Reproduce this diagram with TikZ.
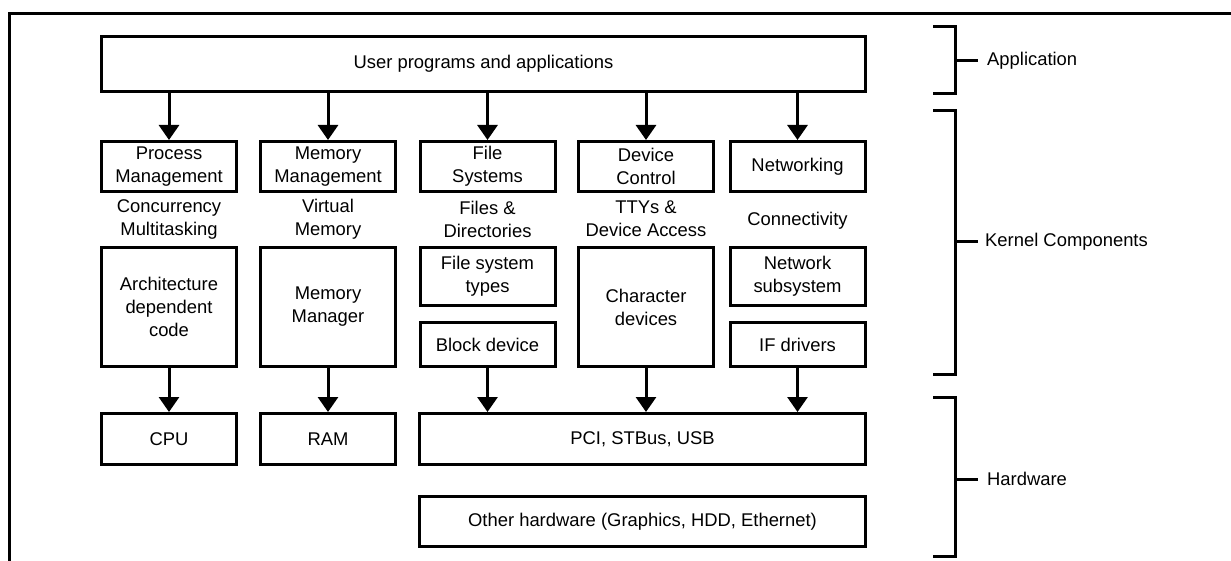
\documentclass[tikz,border=0pt]{standalone}
\usepackage{fontspec}
\setmainfont{Liberation Sans}
\usetikzlibrary{arrows.meta}

\begin{document}
\begin{tikzpicture}[x=1pt,y=-1pt,
  font=\fontsize{18.4}{23}\selectfont,
  box/.style={draw,line width=3pt,inner sep=0pt,align=center,minimum width=135pt},
  arr/.style={line width=3pt,-{Triangle[width=20pt,length=15pt]}},
  brk/.style={line width=3pt},
  lbl/.style={align=center,inner sep=0pt}]
  \useasboundingbox (0,0) rectangle (1231,561);
  \draw[brk] (1231,14) -- (9,14) -- (9,561);

  \node[box,minimum width=764pt,minimum height=55pt] (usr) at (483.5,64) {User programs and applications};

  \node[box,minimum height=50pt] (proc) at (169,166.5) {Process\\Management};
  \node[box,minimum height=50pt] (mem) at (328,166.5) {Memory\\Management};
  \node[box,minimum height=50pt] (fs) at (487.5,166.5) {File\\Systems};
  \node[box,minimum height=50pt] (dev) at (646,166.5) {Device\\Control};
  \node[box,minimum height=50pt] (net) at (797.5,166.5) {Networking};

  \node[lbl] (conc) at (169,219) {Concurrency\\Multitasking};
  \node[lbl] (virt) at (328,219) {Virtual\\Memory};
  \node[lbl] (files) at (487.5,219) {Files \&\\Directories};
  \node[lbl] (tty) at (646,219) {TTYs \&\\Device Access};
  \node[lbl] (conn) at (797.5,221) {Connectivity};

  \node[box,minimum height=119pt] (arch) at (169,307) {Architecture\\dependent\\code};
  \node[box,minimum height=119pt] (mmgr) at (328,307) {Memory\\Manager};
  \node[box,minimum height=58pt] (fst) at (487.5,276.5) {File system\\types};
  \node[box,minimum height=44pt] (blk) at (487.5,344.5) {Block device};
  \node[box,minimum height=119pt] (chr) at (646,307) {Character\\devices};
  \node[box,minimum height=58pt] (nsub) at (797.5,276.5) {Network\\subsystem};
  \node[box,minimum height=44pt] (ifd) at (797.5,344.5) {IF drivers};

  \node[box,minimum height=51pt] (cpu) at (169,439) {CPU};
  \node[box,minimum height=51pt] (ram) at (328,439) {RAM};
  \node[box,minimum width=446pt,minimum height=51pt] (pci) at (642.5,439) {PCI, STBus, USB};
  \node[box,minimum width=446pt,minimum height=50pt] (oth) at (642.5,521.5) {Other hardware (Graphics, HDD, Ethernet)};

  \draw[arr] (proc.north |- usr.south) -- (proc.north);
  \draw[arr] (mem.north |- usr.south) -- (mem.north);
  \draw[arr] (fs.north |- usr.south) -- (fs.north);
  \draw[arr] (dev.north |- usr.south) -- (dev.north);
  \draw[arr] (net.north |- usr.south) -- (net.north);

  \draw[arr] (arch.south) -- (cpu.north);
  \draw[arr] (mmgr.south) -- (ram.north);
  \draw[arr] (blk.south) -- (blk.south |- pci.north);
  \draw[arr] (chr.south) -- (chr.south |- pci.north);
  \draw[arr] (ifd.south) -- (ifd.south |- pci.north);

  % brackets on the right
  \node[anchor=west,inner sep=0pt] (app) at (987,61) {Application};
  \node[anchor=west,inner sep=0pt] (kern) at (985,242) {Kernel Components};
  \node[anchor=west,inner sep=0pt] (hw) at (987,479) {Hardware};
  \coordinate (appb) at (955,61);
  \coordinate (kernb) at (955,242);
  \coordinate (hwb) at (955,479);
  \draw[brk] (933,27) -- (955,27) -- (955,94) -- (933,94);
  \draw[brk] (933,111) -- (955,111) -- (955,374) -- (933,374);
  \draw[brk] (933,397) -- (955,397) -- (955,556) -- (933,556);
  \draw[brk,shorten >=9pt] (appb) -- (app.west);
  \draw[brk,shorten >=7pt] (kernb) -- (kern.west);
  \draw[brk,shorten >=9pt] (hwb) -- (hw.west);
\end{tikzpicture}
\end{document}
